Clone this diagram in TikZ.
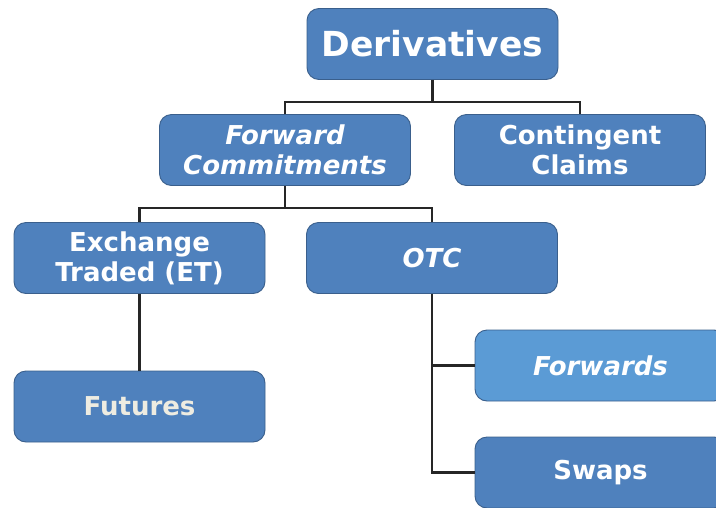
\documentclass[tikz,border=0pt]{standalone}
\usepackage{fontspec}
\setmainfont{DejaVu Sans}
\definecolor{boxblue}{HTML}{4F81BD}
\definecolor{lightblue}{HTML}{5B9BD5}
\definecolor{boxedge}{HTML}{3A5F8C}
\definecolor{paletext}{HTML}{EEECE1}
\begin{document}
\begin{tikzpicture}[x=1pt,y=-1pt,
  box/.style={draw=boxedge, fill=boxblue, rounded corners=12pt,
    minimum width=251pt, minimum height=71pt, inner sep=0pt,
    text=white, align=center, line width=0.9pt,
    font=\bfseries\fontsize{26}{30}\selectfont},
  lightbox/.style={box, fill=lightblue},
  link/.style={draw=black!85, line width=2.2pt}]
\useasboundingbox (0,0) rectangle (716,507);
% tree levels
\node[box, font=\bfseries\fontsize{34.5}{38}\selectfont] (deriv) at (432.5,44) {Derivatives};
\node[box] (fwdc) at (285,150) {\itshape Forward\\\itshape Commitments};
\node[box] (cont) at (580,150) {Contingent\\Claims};
\node[box] (et) at (139.5,258) {Exchange\\Traded (ET)};
\node[box] (otc) at (432,258) {\itshape OTC};
\node[box, text=paletext] (fut) at (139.5,406.5) {Futures};
\node[lightbox] (fwds) at (600.5,365.5) {\itshape Forwards};
\node[box] (swaps) at (600.5,472.5) {Swaps};
% junction points
\coordinate (j1) at (432.5,102);
\coordinate (j2) at (285,208);
% connectors
\draw[link] (deriv.south) -- (j1);
\draw[link] (fwdc.north) |- (j1) -| (cont.north);
\draw[link] (fwdc.south) -- (j2);
\draw[link] (et.north) |- (j2) -| (otc.north);
\draw[link] (et.south) -- (fut.north);
\draw[link] (otc.south) |- (fwds.west);
\draw[link] (otc.south) |- (swaps.west);
\end{tikzpicture}
\end{document}
